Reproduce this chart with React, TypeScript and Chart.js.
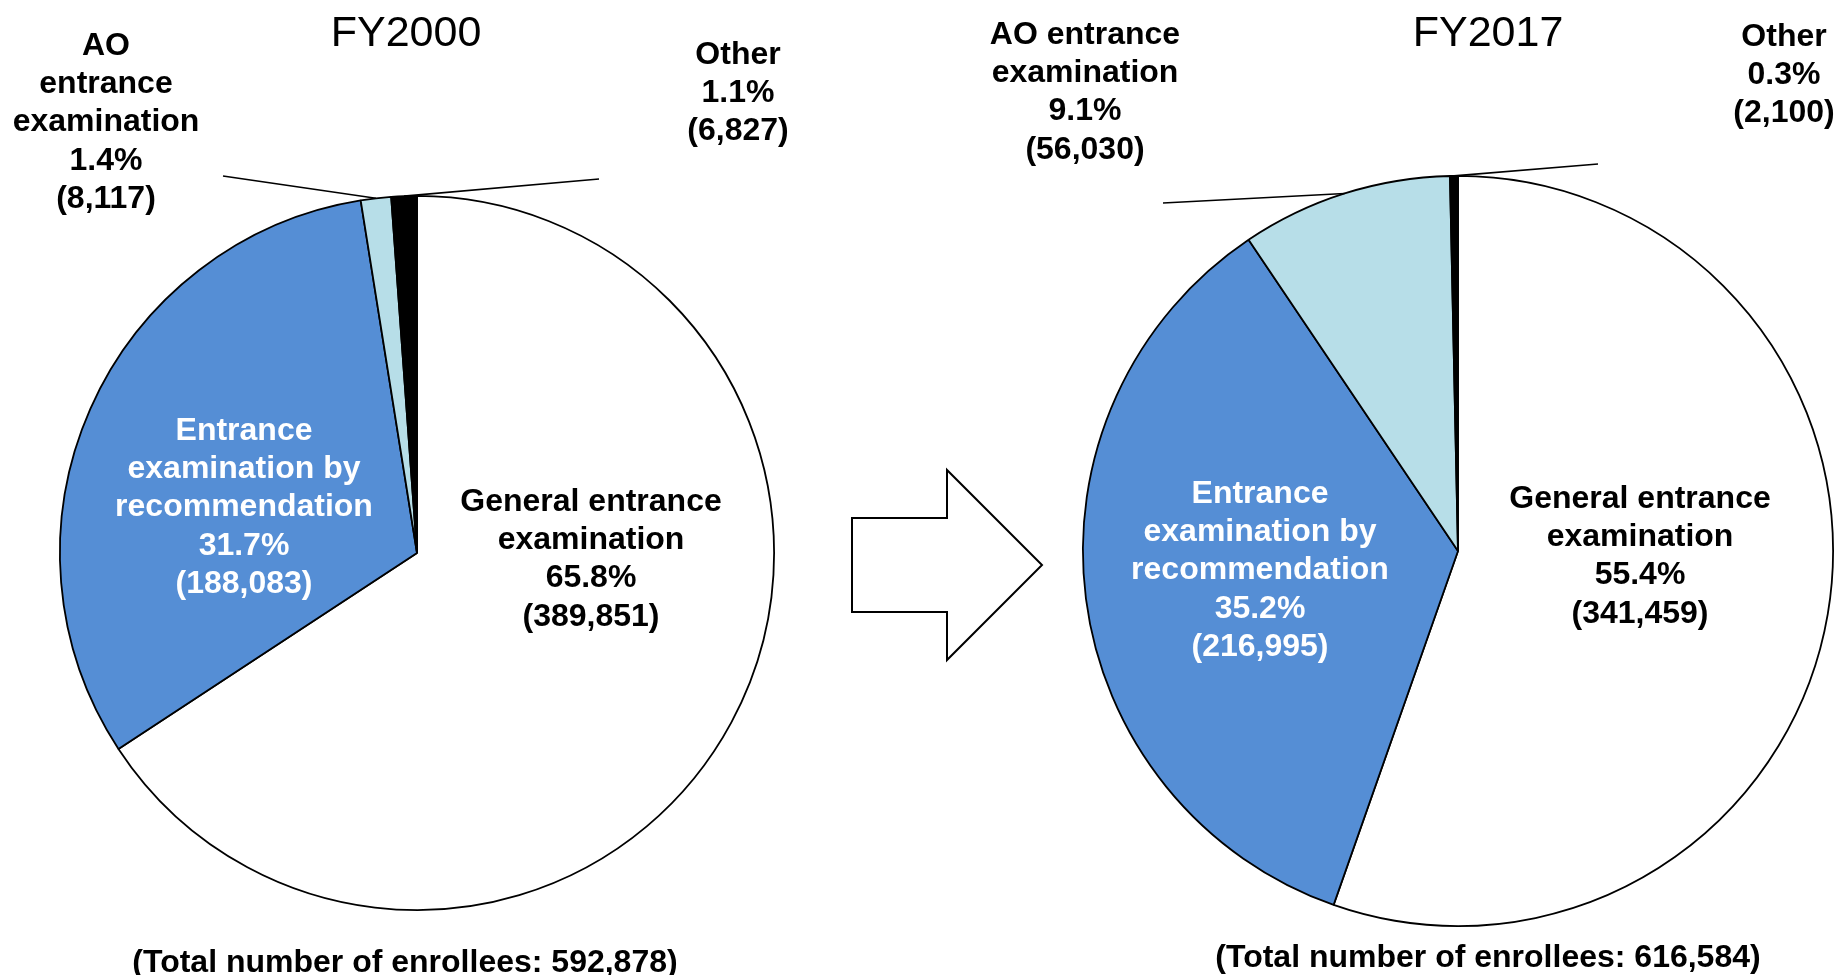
import React, { useEffect, useRef } from "react";
import { Chart, registerables } from "chart.js";

Chart.register(...registerables);

// ---- Data ----
const CATEGORIES = [
  "General entrance examination",
  "Entrance examination by recommendation",
  "AO entrance examination",
  "Other",
];
const FY2000_VALUES = [389851, 188083, 8117, 6827];
const FY2017_VALUES = [341459, 216995, 56030, 2100];
const FY2000_PCT = ["65.8%", "31.7%", "1.4%", "1.1%"];
const FY2017_PCT = ["55.4%", "35.2%", "9.1%", "0.3%"];
const TITLES = ["FY2000", "FY2017"];
const TOTALS = [592878, 616584];
const SLICE_COLORS = ["#FFFFFF", "#558ED5", "#B7DEE8", "#000000"];

// label name lines per category (left / right chart wrap differently)
const FY2000_NAME_LINES = [
  ["General entrance", "examination"],
  ["Entrance", "examination by", "recommendation"],
  ["AO", "entrance", "examination"],
  ["Other"],
];
const FY2017_NAME_LINES = [
  ["General entrance", "examination"],
  ["Entrance", "examination by", "recommendation"],
  ["AO entrance", "examination"],
  ["Other"],
];

// ---- Layout (positions only) ----
const W = 1842;
const H = 975;
const FONT = '"Liberation Sans", Arial, Helvetica, sans-serif';
const LINE_H = 38.3;

type LabelPos = { x: number; y: number; color: string; leader?: [number, number] };

const LEFT_LAYOUT = {
  padding: { left: 59, top: 195, right: W - 775, bottom: H - 911 },
  title: { x: 406, y: 34 },
  total: { x: 405, y: 963 },
  labels: [
    { x: 591, y: 502, color: "#000" },
    { x: 244, y: 431, color: "#fff" },
    { x: 106, y: 46, color: "#000", leader: [223, 176] },
    { x: 738, y: 55, color: "#000", leader: [599, 179] },
  ] as LabelPos[],
};
const RIGHT_LAYOUT = {
  padding: { left: 1082, top: 175, right: W - 1834, bottom: H - 927 },
  title: { x: 1488, y: 34 },
  total: { x: 1488, y: 958 },
  labels: [
    { x: 1640, y: 499, color: "#000" },
    { x: 1260, y: 494, color: "#fff" },
    { x: 1085, y: 35, color: "#000", leader: [1163, 203] },
    { x: 1784, y: 37, color: "#000", leader: [1598, 164] },
  ] as LabelPos[],
};
const ARROW_POINTS: [number, number][] = [
  [852, 518],
  [947, 518],
  [947, 470],
  [1042, 565],
  [947, 660],
  [947, 612],
  [852, 612],
];

function makeLabelPlugin(
  id: string,
  layout: typeof LEFT_LAYOUT,
  nameLines: string[][],
  pct: string[],
  values: number[],
  title: string,
  total: number,
  drawArrow: boolean
) {
  return {
    id,
    afterDatasetsDraw(chart: any) {
      const ctx: CanvasRenderingContext2D = chart.ctx;
      const meta = chart.getDatasetMeta(0);
      ctx.save();
      // leader lines
      ctx.strokeStyle = "#000";
      ctx.lineWidth = 1.6;
      layout.labels.forEach((lab, i) => {
        if (!lab.leader) return;
        const arc = meta.data[i];
        const p = arc.getProps(["x", "y", "startAngle", "endAngle", "outerRadius"], true);
        const mid = (p.startAngle + p.endAngle) / 2;
        const ex = p.x + p.outerRadius * Math.cos(mid);
        const ey = p.y + p.outerRadius * Math.sin(mid);
        ctx.beginPath();
        ctx.moveTo(lab.leader[0], lab.leader[1]);
        ctx.lineTo(ex, ey);
        ctx.stroke();
      });
      // labels
      ctx.textAlign = "center";
      ctx.textBaseline = "middle";
      ctx.font = `bold 32px ${FONT}`;
      layout.labels.forEach((lab, i) => {
        const lines = [
          ...nameLines[i],
          pct[i],
          `(${values[i].toLocaleString("en-US")})`,
        ];
        ctx.fillStyle = lab.color;
        lines.forEach((t, k) => ctx.fillText(t, lab.x, lab.y + k * LINE_H));
      });
      // title
      ctx.fillStyle = "#000";
      ctx.font = `43px ${FONT}`;
      ctx.fillText(title, layout.title.x, layout.title.y);
      // total
      ctx.font = `bold 32px ${FONT}`;
      ctx.fillText(
        `(Total number of enrollees: ${total.toLocaleString("en-US")})`,
        layout.total.x,
        layout.total.y
      );
      if (drawArrow) {
        ctx.beginPath();
        ARROW_POINTS.forEach(([x, y], k) => (k === 0 ? ctx.moveTo(x, y) : ctx.lineTo(x, y)));
        ctx.closePath();
        ctx.fillStyle = "#fff";
        ctx.fill();
        ctx.lineWidth = 2;
        ctx.strokeStyle = "#000";
        ctx.stroke();
      }
      ctx.restore();
    },
  };
}

function makeConfig(
  values: number[],
  layout: typeof LEFT_LAYOUT,
  plugin: any
): any {
  return {
    type: "pie",
    data: {
      labels: CATEGORIES,
      datasets: [
        {
          data: values,
          backgroundColor: SLICE_COLORS,
          borderColor: "#000000",
          borderWidth: 1.8,
        },
      ],
    },
    options: {
      responsive: false,
      maintainAspectRatio: false,
      animation: false,
      devicePixelRatio: 1,
      layout: { padding: layout.padding },
      plugins: {
        legend: { display: false },
        tooltip: { enabled: false },
        title: { display: false },
      },
    },
    plugins: [plugin],
  };
}

export default function App() {
  const leftRef = useRef<HTMLCanvasElement | null>(null);
  const rightRef = useRef<HTMLCanvasElement | null>(null);

  useEffect(() => {
    const charts: Chart[] = [];
    if (leftRef.current) {
      const plugin = makeLabelPlugin(
        "leftLabels",
        LEFT_LAYOUT,
        FY2000_NAME_LINES,
        FY2000_PCT,
        FY2000_VALUES,
        TITLES[0],
        TOTALS[0],
        true
      );
      charts.push(new Chart(leftRef.current, makeConfig(FY2000_VALUES, LEFT_LAYOUT, plugin)));
    }
    if (rightRef.current) {
      const plugin = makeLabelPlugin(
        "rightLabels",
        RIGHT_LAYOUT,
        FY2017_NAME_LINES,
        FY2017_PCT,
        FY2017_VALUES,
        TITLES[1],
        TOTALS[1],
        false
      );
      charts.push(new Chart(rightRef.current, makeConfig(FY2017_VALUES, RIGHT_LAYOUT, plugin)));
    }
    return () => charts.forEach((c) => c.destroy());
  }, []);

  const canvasStyle: React.CSSProperties = {
    position: "absolute",
    left: 0,
    top: 0,
    width: W,
    height: H,
  };

  return (
    <div
      style={{
        position: "fixed",
        left: 0,
        top: 0,
        width: W,
        height: H,
        background: "#fff",
        overflow: "hidden",
      }}
    >
      <canvas ref={leftRef} width={W} height={H} style={canvasStyle} />
      <canvas ref={rightRef} width={W} height={H} style={canvasStyle} />
    </div>
  );
}
